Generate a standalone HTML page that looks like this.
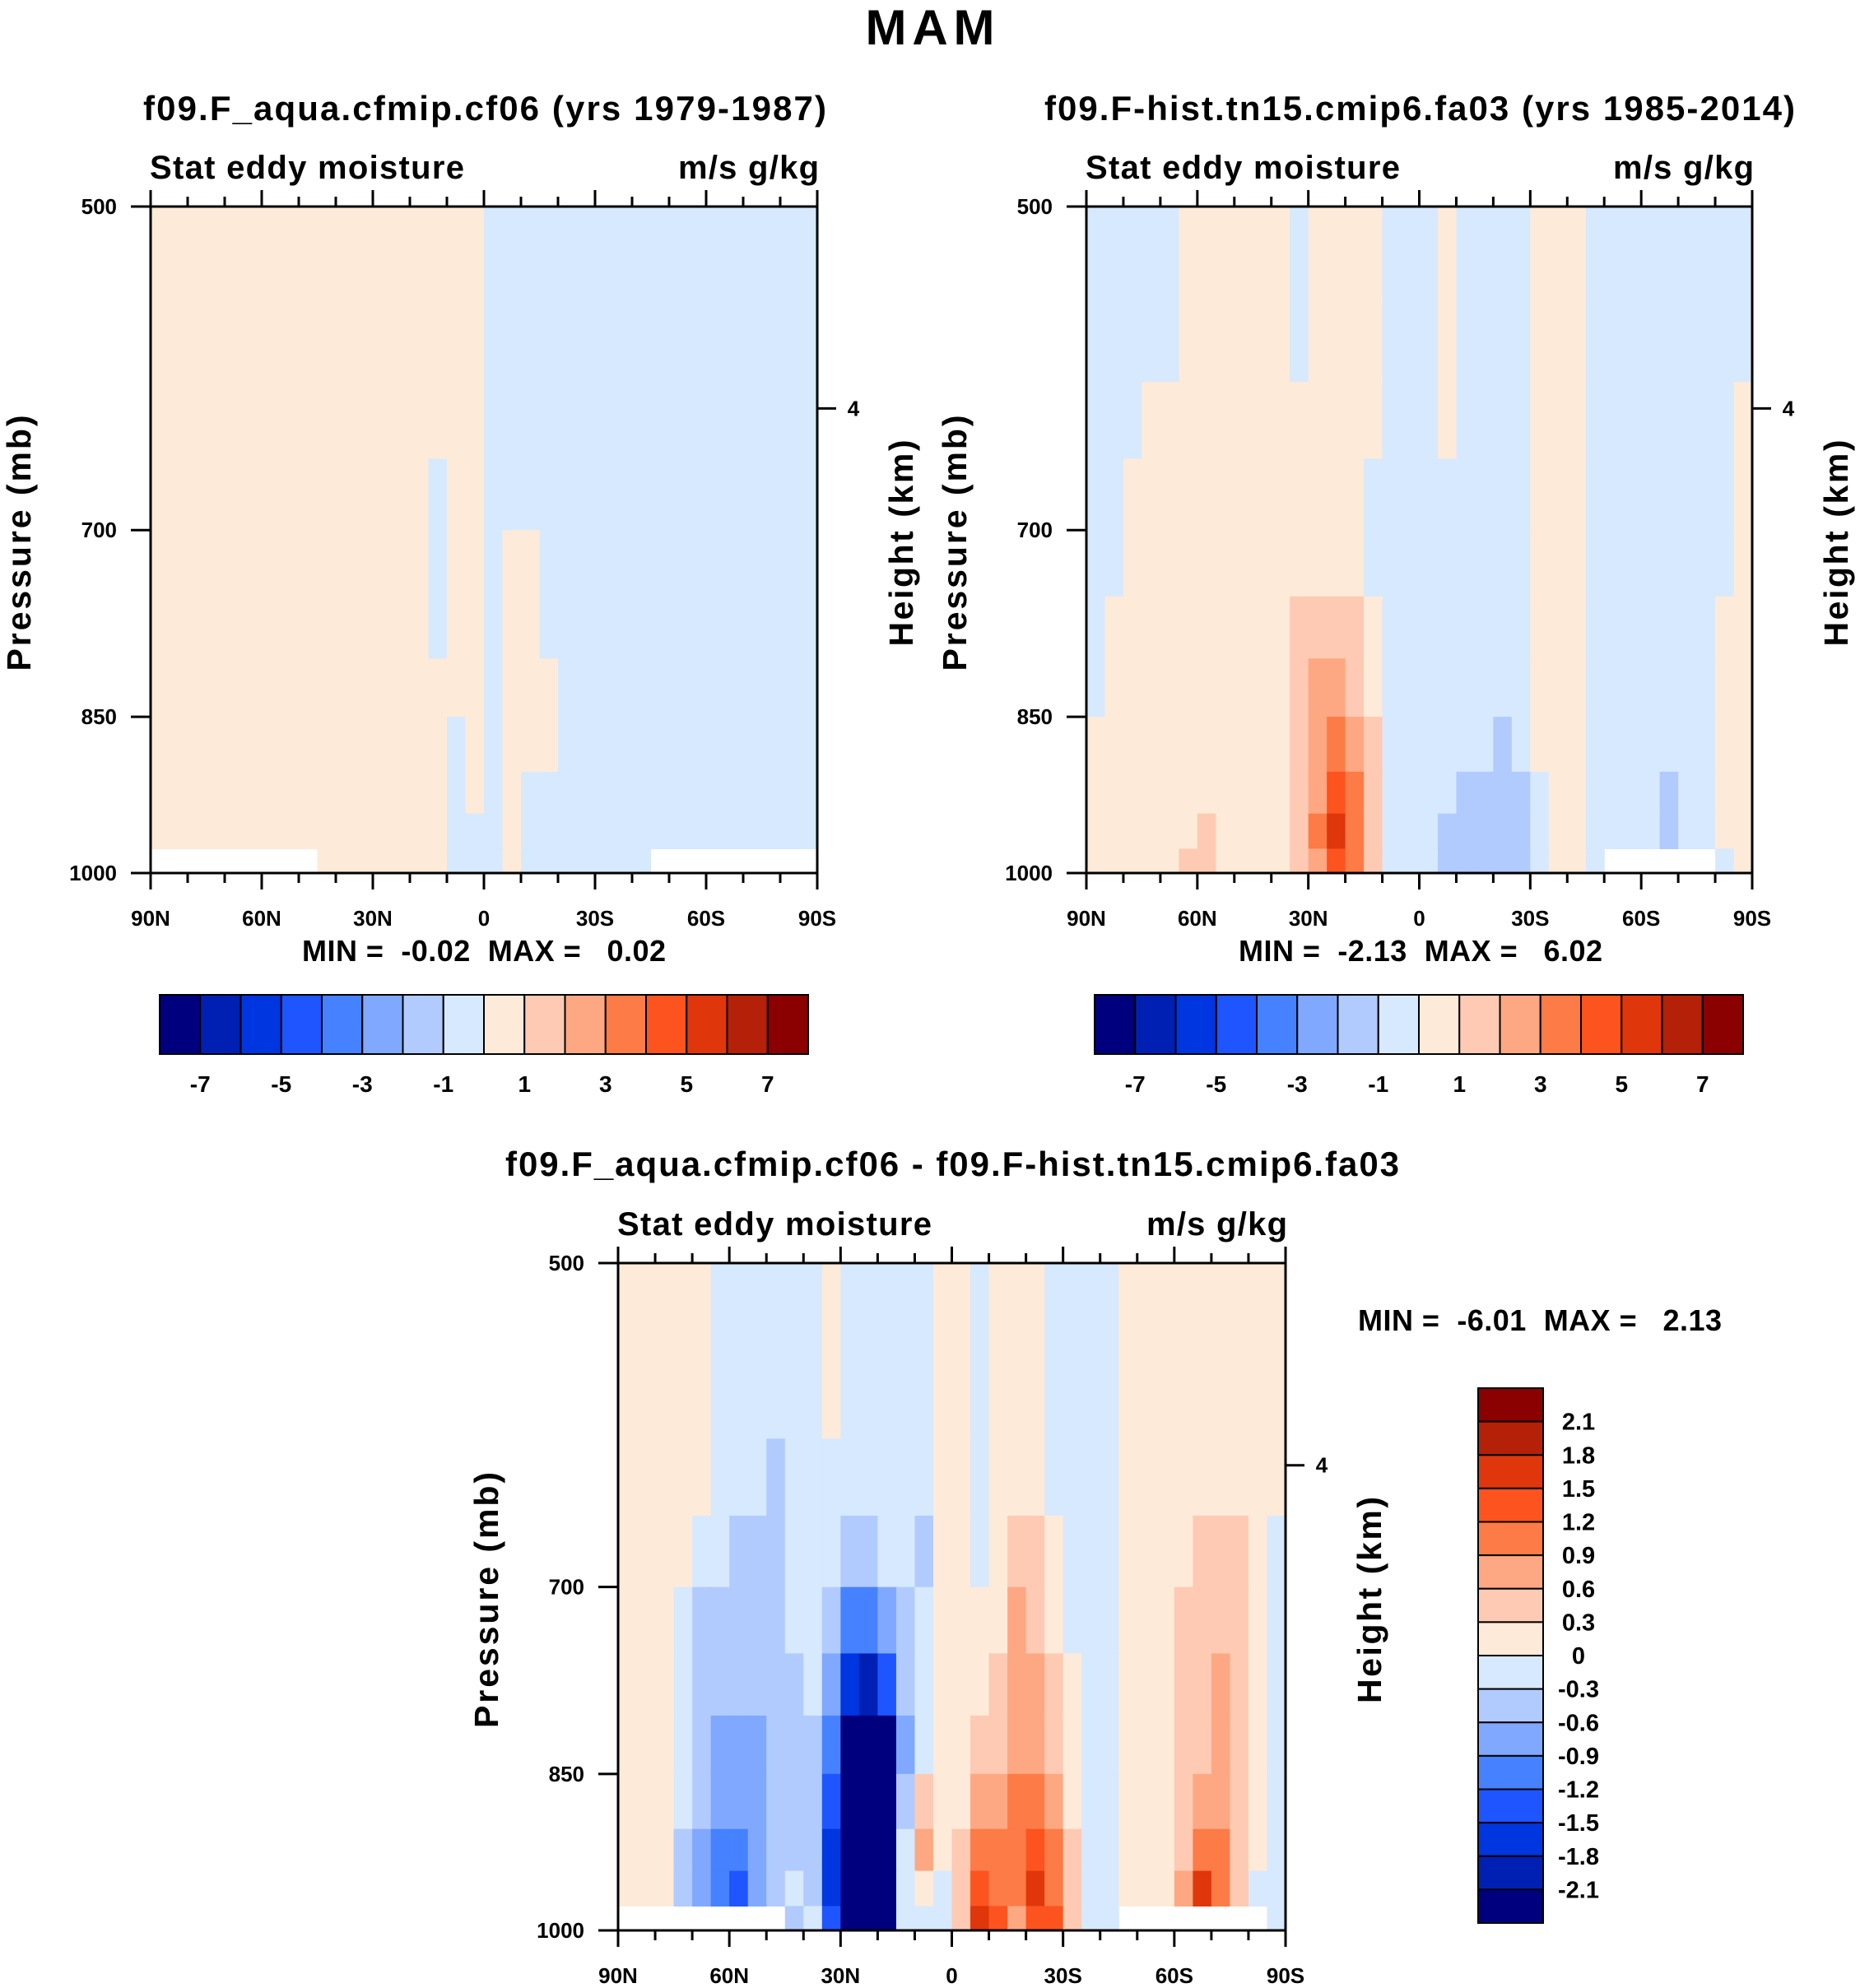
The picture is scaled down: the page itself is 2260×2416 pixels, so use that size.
<!DOCTYPE html>
<html><head><meta charset="utf-8"><style>
html,body{margin:0;padding:0;background:#fff;}
svg{display:block;font-family:"Liberation Sans",sans-serif;font-weight:bold;}
.pre{white-space:pre;}
</style></head><body>
<svg id="fig" width="2260" height="2416" viewBox="0 0 2260 2416" xmlns="http://www.w3.org/2000/svg">
<text x="1130" y="54" font-size="60" text-anchor="middle" textLength="157">MAM</text>
</svg>
<script>
// ---- data ----
const pressureEdges = [500,550,600,650,700,750,800,850,900,940,975,1000];
const latStep = 5;
const topLevels = [-7,-6,-5,-4,-3,-2,-1,0,1,2,3,4,5,6,7];
const topLabels = ["-7","-5","-3","-1","1","3","5","7"];
const diffLevels = [-2.1,-1.8,-1.5,-1.2,-0.9,-0.6,-0.3,0,0.3,0.6,0.9,1.2,1.5,1.8,2.1];
const diffLabels = ["2.1","1.8","1.5","1.2","0.9","0.6","0.3","0","-0.3","-0.6","-0.9","-1.2","-1.5","-1.8","-2.1"];
const palette = ["#00007f","#0020b4","#0036e0","#1e55ff","#4681ff","#80a8ff","#b2cbff","#d7e9fe","#feead8","#fecab3","#fda883","#fd7b46","#fd531e","#e0360b","#b42008","#8b0000"];
const xTickLabels = ["90N","60N","30N","0","30S","60S","90S"];
const xTickLats = [90,60,30,0,-30,-60,-90];
const yTickLabels = ["500","700","850","1000"];
const yTickValues = [500,700,850,1000];

// panel 1 (values near zero)
const c=0.01,l=-0.01,n1=null;
const field1 = [
[c,c,c,c,c,c,c,c,c,c,c,c,c,c,c,c,c,c,l,l,l,l,l,l,l,l,l,l,l,l,l,l,l,l,l,l],
[c,c,c,c,c,c,c,c,c,c,c,c,c,c,c,c,c,c,l,l,l,l,l,l,l,l,l,l,l,l,l,l,l,l,l,l],
[c,c,c,c,c,c,c,c,c,c,c,c,c,c,c,c,c,c,l,l,l,l,l,l,l,l,l,l,l,l,l,l,l,l,l,l],
[c,c,c,c,c,c,c,c,c,c,c,c,c,c,c,l,c,c,l,l,l,l,l,l,l,l,l,l,l,l,l,l,l,l,l,l],
[c,c,c,c,c,c,c,c,c,c,c,c,c,c,c,l,c,c,l,c,c,l,l,l,l,l,l,l,l,l,l,l,l,l,l,l],
[c,c,c,c,c,c,c,c,c,c,c,c,c,c,c,l,c,c,l,c,c,l,l,l,l,l,l,l,l,l,l,l,l,l,l,l],
[c,c,c,c,c,c,c,c,c,c,c,c,c,c,c,c,c,c,l,c,c,c,l,l,l,l,l,l,l,l,l,l,l,l,l,l],
[c,c,c,c,c,c,c,c,c,c,c,c,c,c,c,c,l,c,l,c,c,c,l,l,l,l,l,l,l,l,l,l,l,l,l,l],
[c,c,c,c,c,c,c,c,c,c,c,c,c,c,c,c,l,c,l,c,l,l,l,l,l,l,l,l,l,l,l,l,l,l,l,l],
[c,c,c,c,c,c,c,c,c,c,c,c,c,c,c,c,l,l,l,c,l,l,l,l,l,l,l,l,l,l,l,l,l,l,l,l],
[n1,n1,n1,n1,n1,n1,n1,n1,n1,c,c,c,c,c,c,c,l,l,l,c,l,l,l,l,l,l,l,n1,n1,n1,n1,n1,n1,n1,n1,n1]
];
// panel 2
const C=0.5,L=-0.5,B=-1.5,Q1=1.5,Q2=2.5,Q3=3.5,Q4=4.5,Q5=5.5,X=null;
const field2 = [
[L,L,L,L,L,C,C,C,C,C,C,L,C,C,C,C,L,L,L,C,L,L,L,L,C,C,C,L,L,L,L,L,L,L,L,L],
[L,L,L,L,L,C,C,C,C,C,C,L,C,C,C,C,L,L,L,C,L,L,L,L,C,C,C,L,L,L,L,L,L,L,L,L],
[L,L,L,C,C,C,C,C,C,C,C,C,C,C,C,C,L,L,L,C,L,L,L,L,C,C,C,L,L,L,L,L,L,L,L,C],
[L,L,C,C,C,C,C,C,C,C,C,C,C,C,C,L,L,L,L,L,L,L,L,L,C,C,C,L,L,L,L,L,L,L,L,C],
[L,L,C,C,C,C,C,C,C,C,C,C,C,C,C,L,L,L,L,L,L,L,L,L,C,C,C,L,L,L,L,L,L,L,L,C],
[L,C,C,C,C,C,C,C,C,C,C,Q1,Q1,Q1,Q1,C,L,L,L,L,L,L,L,L,C,C,C,L,L,L,L,L,L,L,C,C],
[L,C,C,C,C,C,C,C,C,C,C,Q1,Q2,Q2,Q1,C,L,L,L,L,L,L,L,L,C,C,C,L,L,L,L,L,L,L,C,C],
[C,C,C,C,C,C,C,C,C,C,C,Q1,Q2,Q3,Q2,Q1,L,L,L,L,L,L,B,L,C,C,C,L,L,L,L,L,L,L,C,C],
[C,C,C,C,C,C,C,C,C,C,C,Q1,Q2,Q4,Q3,Q1,L,L,L,L,B,B,B,B,L,C,C,L,L,L,L,B,L,L,C,C],
[C,C,C,C,C,C,Q1,C,C,C,C,Q1,Q3,Q5,Q3,Q1,L,L,L,B,B,B,B,B,L,C,C,L,L,L,L,B,L,L,C,C],
[C,C,C,C,C,Q1,Q1,C,C,C,C,Q1,Q2,Q4,Q3,Q1,L,L,L,B,B,B,B,B,L,C,C,L,X,X,X,X,X,X,L,C]
];
// panel 3 (difference)
const c3=0.15,l3=-0.15,b1=-0.45,b2=-0.75,b3=-1.05,b4=-1.35,b5=-1.65,b6=-1.95,nv=-2.5,p1=0.45,p2=0.75,p3=1.05,p4=1.35,p5=1.65,z=null;
const field3 = [
[c3,c3,c3,c3,c3,l3,l3,l3,l3,l3,l3,c3,l3,l3,l3,l3,l3,c3,c3,l3,c3,c3,c3,l3,l3,l3,l3,c3,c3,c3,c3,c3,c3,c3,c3,c3],
[c3,c3,c3,c3,c3,l3,l3,l3,l3,l3,l3,c3,l3,l3,l3,l3,l3,c3,c3,l3,c3,c3,c3,l3,l3,l3,l3,c3,c3,c3,c3,c3,c3,c3,c3,c3],
[c3,c3,c3,c3,c3,l3,l3,l3,b1,l3,l3,l3,l3,l3,l3,l3,l3,c3,c3,l3,c3,c3,c3,l3,l3,l3,l3,c3,c3,c3,c3,c3,c3,c3,c3,c3],
[c3,c3,c3,c3,l3,l3,b1,b1,b1,l3,l3,l3,b1,b1,l3,l3,b1,c3,c3,l3,c3,p1,p1,c3,l3,l3,l3,c3,c3,c3,c3,p1,p1,p1,c3,l3],
[c3,c3,c3,l3,b1,b1,b1,b1,b1,l3,l3,b1,b3,b3,b2,b1,l3,c3,c3,c3,c3,p2,p1,c3,l3,l3,l3,c3,c3,c3,p1,p1,p1,p1,c3,l3],
[c3,c3,c3,l3,b1,b1,b1,b1,b1,b1,l3,b2,b5,b6,b4,b1,l3,c3,c3,c3,p1,p2,p2,p1,c3,l3,l3,c3,c3,c3,p1,p1,p2,p1,c3,l3],
[c3,c3,c3,l3,b1,b2,b2,b2,b1,b1,b1,b3,nv,nv,nv,b2,l3,c3,c3,p1,p1,p2,p2,p1,c3,l3,l3,c3,c3,c3,p1,p1,p2,p1,c3,l3],
[c3,c3,c3,l3,b1,b2,b2,b2,b1,b1,b1,b4,nv,nv,nv,b1,p1,c3,c3,p2,p2,p3,p3,p2,c3,l3,l3,c3,c3,c3,p1,p2,p2,p1,c3,l3],
[c3,c3,c3,b1,b2,b3,b3,b2,b1,b1,b1,b5,nv,nv,nv,l3,p2,c3,p1,p3,p3,p3,p4,p3,p1,l3,l3,c3,c3,c3,p1,p3,p3,p1,c3,l3],
[c3,c3,c3,b1,b2,b3,b4,b2,b1,l3,b1,b5,nv,nv,nv,l3,c3,l3,p1,p4,p3,p3,p5,p3,p1,l3,l3,c3,c3,c3,p2,p5,p3,p1,l3,l3],
[z,z,z,z,z,z,z,z,z,b1,l3,b4,nv,nv,nv,l3,l3,l3,p1,p5,p4,p2,p4,p4,p1,l3,l3,z,z,z,z,z,z,z,z,l3]
];

// ---- drawing ----
const NS="http://www.w3.org/2000/svg";
const svg=document.getElementById('fig');
function mk(tag,attrs,parent){const e=document.createElementNS(NS,tag);for(const k in attrs)e.setAttribute(k,attrs[k]);(parent||svg).appendChild(e);return e;}
function colorFor(v,levels){let i=0;while(i<levels.length&&v>=levels[i])i++;return palette[i];}

function drawPanel(P){
  const g=mk('g',{});
  
  
  const xs=lat=>P.x0+(90-lat)/180*(P.x1-P.x0);
  const ys=p=>P.y0+Math.log(p/500)/Math.log(2)*(P.y1-P.y0);
  P.field.forEach((row,r)=>{
    row.forEach((v,i)=>{
      if(v===null)return;
      const xa=xs(90-i*latStep), xb=xs(90-(i+1)*latStep);
      const ya=ys(pressureEdges[r]), yb=ys(pressureEdges[r+1]);
      const rc=mk('rect',{x:xa,y:ya,width:xb-xa+0.6,height:yb-ya+0.6,fill:colorFor(v,P.levels)},g);
      
      
    });
  });
  const fr=mk('rect',{x:P.x0,y:P.y0,width:P.x1-P.x0,height:P.y1-P.y0,fill:'none',stroke:'#000','stroke-width':3},g);
  
  
  for(let lat=90;lat>=-90;lat-=10){
    const x=xs(lat),major=(lat%30===0),len=major?20:12;
    mk('line',{x1:x,y1:P.y0,x2:x,y2:P.y0-len,stroke:'#000','stroke-width':3},g);
    mk('line',{x1:x,y1:P.y1,x2:x,y2:P.y1+len,stroke:'#000','stroke-width':3},g);
  }
  xTickLabels.forEach((t,i)=>{
    const tx=mk('text',{x:xs(xTickLats[i]),y:P.xLabY,'font-size':26,'text-anchor':'middle'},g);
    tx.textContent=t;
    
    
  });
  yTickValues.forEach((p,i)=>{
    const y=ys(p);
    mk('line',{x1:P.x0,y1:y,x2:P.x0-24,y2:y,stroke:'#000','stroke-width':3},g);
    const tx=mk('text',{x:P.x0-41,y:y+9,'font-size':26,'text-anchor':'end'},g);
    tx.textContent=yTickLabels[i];
    
    
  });
  const y4=P.y0+0.303*(P.y1-P.y0);
  mk('line',{x1:P.x1,y1:y4,x2:P.x1+23,y2:y4,stroke:'#000','stroke-width':3},g);
  const t4=mk('text',{x:P.x1+44,y:y4+9,'font-size':26,'text-anchor':'middle'},g);t4.textContent='4';
  
  
  const yc=(P.y0+P.y1)/2+4;
  const pt=mk('text',{x:0,y:0,'font-size':41,'text-anchor':'middle',textLength:311,transform:`translate(${P.x0-146},${yc}) rotate(-90)`},g);
  pt.textContent='Pressure (mb)';
  
  
  const ht=mk('text',{x:0,y:0,'font-size':41,'text-anchor':'middle',textLength:251,transform:`translate(${P.x1+116},${yc}) rotate(-90)`},g);
  ht.textContent='Height (km)';
  
  
  const s1=mk('text',{x:P.x0-1,y:P.y0-34,'font-size':40,textLength:382},g);s1.textContent='Stat eddy moisture';
  
  
  const s2=mk('text',{x:P.x1+2,y:P.y0-34,'font-size':40,'text-anchor':'end',textLength:171},g);s2.textContent='m/s g/kg';
  
  
  const tt=mk('text',{x:P.tx,y:P.ty,'font-size':42,textLength:P.tw},g);tt.textContent=P.title;
  
  
  const mm=mk('text',{x:P.mx,y:P.my,'font-size':36,textLength:442,'class':'pre'},g);mm.textContent=P.minmax;
  
  
}

function hColorbar(x0,x1,y0,y1,name){
  const g=mk('g',{});
  
  
  const w=(x1-x0)/palette.length;
  palette.forEach((col,i)=>{
    const r=mk('rect',{x:x0+i*w,y:y0,width:w,height:y1-y0,fill:col,stroke:'#000','stroke-width':2},g);
    
    
  });
  topLabels.forEach((t,j)=>{
    const tx=mk('text',{x:x0+(2*j+1)*w,y:1327,'font-size':28,'text-anchor':'middle'},g);tx.textContent=t;
    
    
  });
}

drawPanel({name:'panel-cf06',field:field1,levels:topLevels,x0:183,x1:993,y0:251,y1:1061,xLabY:1125,
  title:'f09.F_aqua.cfmip.cf06 (yrs 1979-1987)',tx:174,ty:146,tw:830,minmax:'MIN =  -0.02  MAX =   0.02',mx:367,my:1168});
drawPanel({name:'panel-fa03',field:field2,levels:topLevels,x0:1320,x1:2129,y0:251,y1:1061,xLabY:1125,
  title:'f09.F-hist.tn15.cmip6.fa03 (yrs 1985-2014)',tx:1269,ty:146,tw:912,minmax:'MIN =  -2.13  MAX =   6.02',mx:1505,my:1168});
drawPanel({name:'panel-difference',field:field3,levels:diffLevels,x0:751,x1:1562,y0:1535,y1:2346,xLabY:2410,
  title:'f09.F_aqua.cfmip.cf06 - f09.F-hist.tn15.cmip6.fa03',tx:614,ty:1429,tw:1086,minmax:'MIN =  -6.01  MAX =   2.13',mx:1650,my:1617});
hColorbar(194,982,1209,1281,'colorbar-cf06');
hColorbar(1330,2118,1209,1281,'colorbar-fa03');

// vertical colorbar
(function(){
  const g=mk('g',{});
  
  
  const x0=1796,x1=1875,y0=1687,y1=2337,h=(y1-y0)/palette.length;
  palette.slice().reverse().forEach((col,i)=>{
    const r=mk('rect',{x:x0,y:y0+i*h,width:x1-x0,height:h,fill:col,stroke:'#000','stroke-width':2},g);
    
    
  });
  diffLabels.forEach((t,j)=>{
    const tx=mk('text',{x:1918,y:y0+(j+1)*h+10,'font-size':29,'text-anchor':'middle'},g);tx.textContent=t;
    
    
  });
})();
</script>
</body></html>
